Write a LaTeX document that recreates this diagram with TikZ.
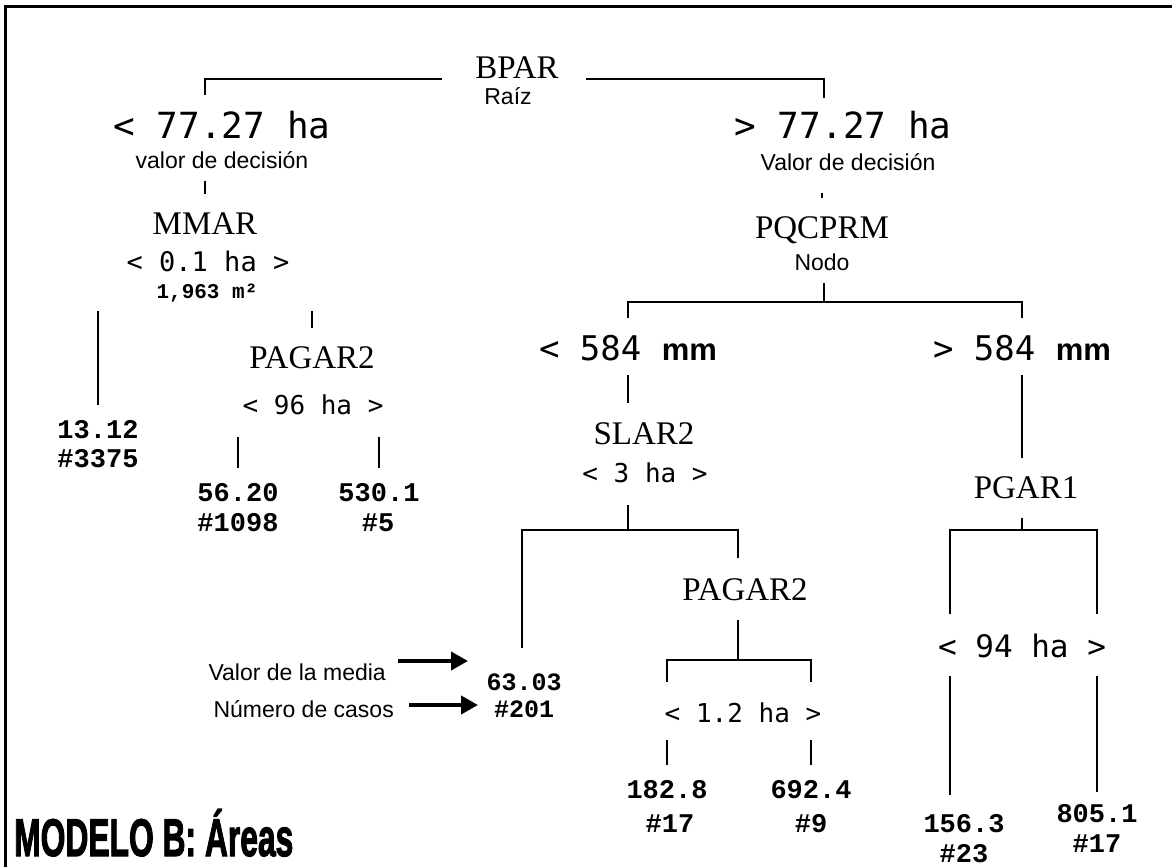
\documentclass[tikz,border=0pt]{standalone}
\usepackage{fontspec}
\usetikzlibrary{arrows.meta}
\newfontfamily\varfont{Liberation Serif}
\newfontfamily\condfont{DejaVu Sans Mono}
\newfontfamily\notefont{Liberation Sans}
\newfontfamily\leaffont{Liberation Mono}
\newfontfamily\titlefont{Liberation Sans}[FakeBold=2.5]
\tikzset{
  var/.style={inner sep=0pt, anchor=base, font=\varfont\fontsize{33}{33}\selectfont},
  cond/.style={inner sep=0pt, anchor=base, font=\condfont\fontsize{26}{26}\selectfont},
  bigcond/.style={cond, font=\condfont\fontsize{36}{36}\selectfont},
  mmcond/.style={cond, font=\condfont\fontsize{34}{34}\selectfont},
  note/.style={inner sep=0pt, anchor=base, font=\notefont\fontsize{23}{23}\selectfont},
  leaf/.style={inner sep=0pt, anchor=base, font=\leaffont\bfseries\fontsize{27}{27}\selectfont},
  tree/.style={line width=1.4pt},
  pointer/.style={line width=4pt, -{Triangle[length=17pt,width=18pt]}},
}
\newcommand{\mmunit}{{\notefont\bfseries\fontsize{31}{31}\selectfont mm}}
\begin{document}
\begin{tikzpicture}[x=1pt,y=-1pt]
  \useasboundingbox (0,0) rectangle (1172,867);
  % Frame
  \draw[line width=3pt] (5,867) -- (5,7) -- (1172,7);
  % Root
  \node[var] (bpar) at (517,78) {BPAR};
  \node[note] (raiz) at (508,104) {Raíz};
  % Left branch
  \node[bigcond] (lt) at (222,138) {< 77.27 ha};
  \node[note] (ltlab) at (222,168) {valor de decisión};
  \node[var] (mmar) at (205,234) {MMAR};
  \node[cond, font=\condfont\fontsize{27}{27}\selectfont] (mmcnd) at (208,271) {< 0.1 ha >};
  \node[leaf, font=\leaffont\bfseries\fontsize{21}{21}\selectfont] (mmsq) at (207,298) {1,963 m²};
  \node[leaf] (v1312) at (98,438) {13.12};
  \node[leaf] (n3375) at (98,467) {\#3375};
  \node[var] (pagl) at (312,368) {PAGAR2};
  \node[cond] (paglc) at (313,414) {< 96 ha >};
  \node[leaf] (v5620) at (238,501) {56.20};
  \node[leaf] (n1098) at (238,531) {\#1098};
  \node[leaf] (v5301) at (379,501) {530.1};
  \node[leaf] (n5) at (378,531) {\#5};
  % Right branch
  \node[bigcond] (gt) at (843,138) {> 77.27 ha};
  \node[note] (gtlab) at (848,170) {Valor de decisión};
  \node[var] (pqc) at (822,238) {PQCPRM};
  \node[note] (nodo) at (822,270) {Nodo};
  \node[mmcond] (lt584) at (628,360) {< 584 \mmunit};
  \node[mmcond] (gt584) at (1022,360) {> 584 \mmunit};
  \node[var] (slar) at (644,444) {SLAR2};
  \node[cond] (slarc) at (645,482) {< 3 ha >};
  \node[var] (pagr) at (745,600) {PAGAR2};
  \node[cond] (pagrc) at (743,722) {< 1.2 ha >};
  \node[leaf] (v1828) at (667,798) {182.8};
  \node[leaf] (n17a) at (670,832) {\#17};
  \node[leaf] (v6924) at (811,798) {692.4};
  \node[leaf] (n9) at (811,832) {\#9};
  \node[var] (pgar) at (1026,498) {PGAR1};
  \node[cond, font=\condfont\fontsize{31}{31}\selectfont] (pgarc) at (1022,657) {< 94 ha >};
  \node[leaf] (v1563) at (964,832) {156.3};
  \node[leaf] (n23) at (964,862) {\#23};
  \node[leaf] (v8051) at (1097,822) {805.1};
  \node[leaf] (n17b) at (1097,852) {\#17};
  % Legend
  \node[leaf, font=\leaffont\bfseries\fontsize{25}{25}\selectfont] (v6303) at (524,690) {63.03};
  \node[leaf, font=\leaffont\bfseries\fontsize{25}{25}\selectfont] (n201) at (524,717) {\#201};
  \node[note, anchor=base east] (lmedia) at (386,680) {Valor de la media};
  \node[note, anchor=base east] (lcasos) at (394,717) {Número de casos};
  \node[anchor=base west, inner sep=0pt, font=\titlefont\bfseries\fontsize{53}{53}\selectfont] (modelo) at (14,856) {\scalebox{0.6}[1]{MODELO B: Áreas}};
  % Connectors
  \draw[tree, shorten >=43pt] ([xshift=-33pt,yshift=-1pt]bpar.base west) -| ([xshift=-17pt]lt.base);
  \draw[tree, shorten >=40pt] ([xshift=27pt,yshift=-1pt]bpar.base east) -| ([xshift=-19pt]gt.base);
  \draw[tree, shorten <=13pt, shorten >=40pt] (mmar.base |- ltlab.base) -- (mmar.base);
  \draw[tree, shorten <=13pt, shorten >=33pt] (v1312.base |- mmsq.base) -- (v1312.base);
  \draw[tree, shorten <=13pt, shorten >=40pt] (pagl.base |- mmsq.base) -- (pagl.base);
  \draw[tree, shorten <=23pt, shorten >=33pt] (v5620.base |- paglc.base) -- (v5620.base);
  \draw[tree, shorten <=23pt, shorten >=33pt] (v5301.base |- paglc.base) -- (v5301.base);
  \draw[tree, shorten <=23pt, shorten >=40pt] (pqc.base |- gtlab.base) -- (pqc.base);
  \coordinate (jpq) at (824,302);
  \draw[tree, shorten <=13pt] (jpq |- nodo.base) -- (jpq);
  \draw[tree, shorten >=42pt] (jpq) -| (lt584.base);
  \draw[tree, shorten >=42pt] (jpq) -| (gt584.base);
  \draw[tree, shorten <=15pt, shorten >=41pt] (lt584.base) -- (lt584.base |- slar.base);
  \coordinate (jsl) at (628,530);
  \draw[tree, shorten <=23pt] (jsl |- slarc.base) -- (jsl);
  \draw[tree, shorten >=42pt] (jsl) -| ([xshift=-2pt]v6303.base);
  \draw[tree, shorten >=42pt] (jsl) -| ([xshift=-7pt]pagr.base);
  \coordinate (jpa) at (738,660);
  \draw[tree, shorten <=20pt] (jpa |- pagr.base) -- (jpa);
  \draw[tree, shorten >=116pt] (jpa) -| (v1828.base);
  \draw[tree, shorten >=116pt] (jpa) -| (v6924.base);
  \draw[tree, shorten <=18pt, shorten >=33pt] (v1828.base |- pagrc.base) -- (v1828.base);
  \draw[tree, shorten <=18pt, shorten >=33pt] (v6924.base |- pagrc.base) -- (v6924.base);
  \draw[tree, shorten <=15pt, shorten >=40pt] (gt584.base) -- (gt584.base |- pgar.base);
  \coordinate (jpg) at (1022,530);
  \coordinate (c156) at ([xshift=-14pt]v1563.base);
  \draw[tree, shorten <=20pt] (jpg |- pgar.base) -- (jpg);
  \draw[tree, shorten >=218pt] (jpg) -| (c156);
  \draw[tree, shorten >=208pt] (jpg) -| (v8051.base);
  \draw[tree, shorten <=19pt, shorten >=37pt] (c156 |- pgarc.base) -- (c156);
  \draw[tree, shorten <=19pt, shorten >=30pt] (v8051.base |- pgarc.base) -- (v8051.base);
  % Legend arrows
  \coordinate (amedia) at (468,661);
  \coordinate (acasos) at (478,705);
  \draw[pointer, shorten <=12pt] (amedia -| lmedia.east) -- (amedia);
  \draw[pointer, shorten <=15pt] (acasos -| lcasos.east) -- (acasos);
\end{tikzpicture}
\end{document}
